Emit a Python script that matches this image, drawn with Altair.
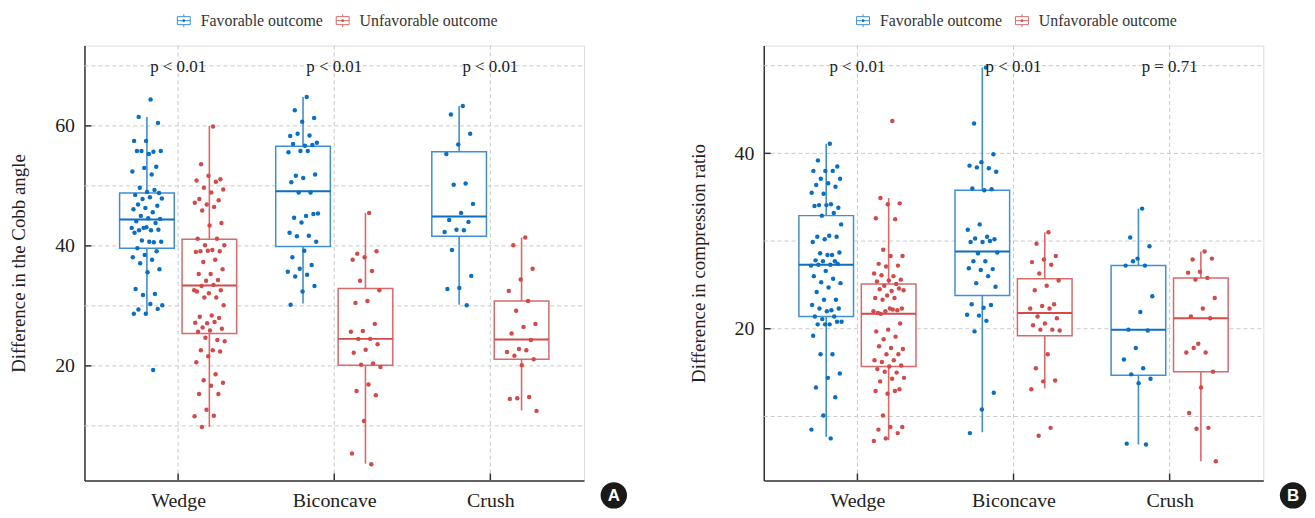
import json
import altair as alt
import pandas as pd

categories = ["Wedge", "Biconcave", "Crush"]
groups = ["Favorable outcome", "Unfavorable outcome"]
point_colors = ["#0a6fc2", "#d24b4b"]
box_colors = ["#3d8fd6", "#d86a6a"]

# ---------- Panel A: Difference in the Cobb angle ----------
cobb_wedge_fav = [64.4, 61.5, 60.5, 57.5, 57.5, 55.7, 55.8, 55.8, 55.3, 55.8, 53.2, 53.0, 52.4, 51.9, 49.7,
                  48.8, 49.0, 48.5, 49.3, 47.8, 47.9, 48.1, 46.9, 46.7, 46.3, 46.1, 45.6, 45.0, 44.5, 44.6,
                  44.1, 43.8, 43.0, 43.0, 42.6, 42.6, 42.7, 43.1, 42.2, 40.6, 40.9, 40.7, 40.7, 39.6, 39.1,
                  38.5, 38.1, 37.7, 37.1, 36.1, 35.6, 32.8, 32.0, 31.8, 30.1, 30.3, 29.4, 29.5, 28.7, 28.7, 19.3]
cobb_wedge_unf = [59.9, 53.6, 51.1, 51.7, 50.9, 50.7, 49.7, 49.4, 48.9, 47.8, 47.6, 46.9, 47.2, 46.5, 45.9,
                  43.8, 43.4, 41.2, 41.2, 40.1, 40.1, 39.3, 39.1, 39.1, 39.2, 39.0, 37.7, 37.3, 36.1, 35.3,
                  35.3, 34.3, 34.2, 32.6, 33.5, 33.3, 32.6, 32.1, 32.4, 31.4, 31.4, 30.1, 28.4, 28.2, 28.0,
                  27.1, 27.2, 27.3, 26.4, 26.2, 25.9, 25.7, 24.3, 24.7, 24.1, 22.6, 22.6, 22.4, 21.6, 20.6,
                  18.6, 17.6, 17.2, 16.7, 15.3, 15.3, 12.7, 11.6, 11.7, 9.8]
cobb_bicon_fav = [64.8, 62.6, 61.3, 60.7, 58.3, 58.4, 58.7, 57.2, 56.7, 57.0, 56.8, 55.8, 55.6, 55.8, 51.7,
                  51.9, 51.3, 50.6, 48.9, 48.9, 45.4, 45.0, 44.7, 45.3, 43.9, 42.2, 41.7, 41.6, 40.7, 39.2,
                  38.1, 36.8, 36.2, 35.7, 35.2, 34.9, 33.3, 32.4, 30.2]
cobb_bicon_unf = [45.5, 38.7, 39.1, 38.1, 37.7, 35.8, 34.2, 32.6, 30.8, 30.5, 27.0, 25.8, 25.7, 24.5, 24.5,
                  23.6, 22.7, 22.2, 20.4, 20.2, 19.8, 16.9, 15.8, 15.1, 10.8, 5.4, 3.6]
cobb_crush_fav = [63.3, 61.9, 58.7, 56.9, 55.3, 50.4, 50.2, 47.0, 45.5, 44.3, 44.0, 42.7, 42.3, 42.6, 39.3,
                  35.0, 33.0, 32.8, 30.1]
cobb_crush_unf = [41.4, 40.1, 36.2, 34.4, 32.5, 30.8, 29.2, 27.0, 26.5, 25.4, 24.3, 22.8, 22.3, 22.6, 21.7,
                  21.1, 20.1, 14.5, 14.8, 14.6, 12.5]
# box summaries in order Wedge fav, Wedge unf, Biconcave fav, Biconcave unf, Crush fav, Crush unf
cobb_lo = [28.8, 9.8, 30.4, 3.7, 30.2, 12.6]
cobb_q1 = [39.6, 25.4, 39.9, 20.1, 41.6, 21.1]
cobb_med = [44.4, 33.4, 49.1, 24.5, 44.9, 24.4]
cobb_q3 = [48.8, 41.1, 56.6, 32.9, 55.7, 30.8]
cobb_hi = [61.5, 60.0, 64.8, 45.5, 63.3, 41.4]
cobb_p = ["p < 0.01", "p < 0.01", "p < 0.01"]
cobb_domain = [0.9, 73.4]
cobb_ticks = [20, 40, 60]
cobb_grid = [10, 20, 30, 40, 50, 60, 70]

# ---------- Panel B: Difference in compression ratio ----------
ratio_wedge_fav = [41.1, 39.2, 38.5, 38.0, 38.0, 38.0, 37.1, 37.1, 36.6, 36.4, 36.2, 35.4, 35.5, 34.2, 34.1,
                   33.8, 34.1, 34.0, 33.2, 32.9, 31.9, 30.6, 30.5, 30.5, 30.2, 29.9, 28.4, 28.6, 28.7, 28.4,
                   27.8, 27.7, 27.7, 27.2, 27.3, 27.3, 27.4, 26.6, 26.0, 25.7, 25.3, 25.2, 24.7, 24.2, 23.3,
                   23.3, 22.7, 22.1, 22.3, 22.3, 22.0, 21.4, 21.4, 21.1, 20.8, 20.5, 20.5, 20.8, 20.5, 19.2,
                   17.1, 17.1, 14.9, 14.4, 13.3, 12.2, 10.1, 8.5, 7.5]
ratio_wedge_unf = [43.7, 34.9, 34.3, 34.2, 32.6, 32.5, 29.0, 28.3, 28.3, 27.4, 27.2, 27.1, 26.3, 26.0, 26.1,
                   25.6, 25.5, 25.4, 25.1, 24.9, 24.4, 24.3, 24.5, 24.6, 23.8, 23.5, 23.5, 23.3, 22.3, 22.3,
                   21.8, 22.1, 22.0, 22.0, 22.2, 21.7, 20.6, 19.9, 19.7, 19.1, 18.8, 17.7, 17.8, 18.0, 17.1,
                   17.1, 16.4, 16.4, 16.2, 15.8, 15.7, 15.4, 15.0, 15.1, 14.4, 14.3, 14.0, 13.1, 12.6, 12.9,
                   12.9, 10.1, 8.8, 8.8, 8.5, 8.1, 7.5, 7.2]
ratio_bicon_fav = [49.8, 43.4, 39.9, 39.0, 38.6, 38.3, 38.4, 37.9, 35.8, 36.0, 35.9, 31.9, 31.3, 30.5, 30.3,
                   30.2, 29.9, 29.9, 30.0, 28.6, 28.7, 27.7, 27.7, 26.8, 26.7, 26.9, 26.0, 25.2, 24.8, 22.4,
                   22.8, 22.7, 21.5, 21.6, 20.9, 19.7, 12.7, 10.8, 8.1]
ratio_bicon_unf = [31.0, 29.7, 28.3, 27.9, 27.6, 27.3, 26.3, 25.5, 24.9, 24.4, 22.8, 22.6, 22.3, 22.3, 21.4,
                   21.2, 20.6, 20.4, 19.9, 19.9, 19.8, 17.1, 15.5, 14.1, 14.0, 13.1, 8.7, 7.8]
ratio_crush_fav = [33.7, 30.4, 29.4, 28.0, 27.2, 27.2, 27.7, 23.7, 21.9, 19.9, 19.8, 17.8, 16.5, 15.5, 14.8,
                   14.3, 13.8, 6.9, 6.8]
ratio_crush_unf = [28.8, 27.9, 28.0, 26.5, 26.4, 25.8, 25.6, 23.5, 22.3, 21.4, 21.2, 18.3, 17.3, 17.3, 17.8,
                   15.1, 13.3, 10.4, 8.7, 8.6, 4.9]
ratio_lo = [7.7, 7.3, 8.2, 13.2, 6.8, 4.9]
ratio_q1 = [21.4, 15.7, 23.8, 19.2, 14.7, 15.1]
ratio_med = [27.3, 21.7, 28.8, 21.8, 19.9, 21.2]
ratio_q3 = [32.9, 25.1, 35.8, 25.7, 27.2, 25.8]
ratio_hi = [41.1, 34.9, 49.8, 31.0, 33.7, 28.8]
ratio_p = ["p < 0.01", "p < 0.01", "p = 0.71"]
ratio_domain = [2.7, 52.3]
ratio_ticks = [20, 40]
ratio_grid = [10, 20, 30, 40, 50]

FONT = "Liberation Serif"
W, H = 503, 438
ICON_BOX = ("M-1,-0.62L1,-0.62L1,0.62L-1,0.62Z M0,-1L0,-0.62 M0,0.62L0,1 M-1,0L1,0")
LEG_ICON_X = [100, 260]
LEG_TEXT_X = [117, 277]
LEG_Y = -25
CAT_EXPR = "indexof(%s, datum.cat) + 1" % json.dumps(categories)
OFF_EXPR = "datum.group == %s ? -0.2 : 0.2" % json.dumps(groups[0])


def panel(series, lo, q1, med, q3, hi, pvals, domain, ticks, grid, ytitle, badge):
    rows = []
    k = 0
    for c in categories:
        for g in groups:
            for v in series[k]:
                rows.append({"cat": c, "group": g, "value": v})
            k += 1
    pts = pd.DataFrame(rows)
    boxes = pd.DataFrame([
        {"cat": c, "group": g}
        for c in categories for g in groups
    ])
    boxes["lo"], boxes["q1"], boxes["med"], boxes["q3"], boxes["hi"] = lo, q1, med, q3, hi
    cats = pd.DataFrame({"cat": categories, "p": pvals})

    xs = alt.Scale(domain=[0.4, 3.6], nice=False, zero=False)
    ys = alt.Scale(domain=domain, nice=False, zero=False)
    color_sc = alt.Scale(domain=groups, range=point_colors)

    xaxis = alt.Axis(values=[1, 2, 3], labelExpr="%s[datum.value - 1]" % json.dumps(categories),
                     ticks=False, grid=False, domainColor="#333", domainWidth=1.5,
                     labelFont=FONT, labelFontSize=20, labelColor="#222", labelPadding=10, title=None)
    yaxis = alt.Axis(values=ticks, ticks=False, grid=False, domainColor="#333", domainWidth=1.5,
                     labelFont=FONT, labelFontSize=20, labelColor="#222", labelPadding=10,
                     title=ytitle, titleFont=FONT, titleFontSize=19, titleFontWeight="normal",
                     titleColor="#222", titlePadding=26)

    def X(f):
        return alt.X(f, type="quantitative", scale=xs, axis=xaxis, title=None)

    def Y(f):
        return alt.Y(f, type="quantitative", scale=ys, axis=yaxis, title=ytitle)

    color = alt.Color("group:N", scale=color_sc, legend=None)

    dash = dict(color="#c9c9c9", strokeDash=[4, 3], strokeWidth=1)
    ygrid = alt.Chart(pd.DataFrame({"v": grid})).mark_rule(**dash).encode(
        y=Y("v"), x=alt.value(0), x2=alt.value(W))
    xgrid = alt.Chart(cats).transform_calculate(pos=CAT_EXPR).mark_rule(**dash).encode(
        x=X("pos"), y=alt.value(0), y2=alt.value(H))

    bx = alt.Chart(boxes).transform_calculate(pos=CAT_EXPR, off=OFF_EXPR).transform_calculate(
        xc="datum.pos + datum.off", xl="datum.pos + datum.off - 0.175", xr="datum.pos + datum.off + 0.175")

    box_layers = []
    for g, bc in zip(groups, box_colors):
        sub = bx.transform_filter(alt.datum.group == g)
        box_layers.append(sub.mark_rule(strokeWidth=1.6, color=bc).encode(x=X("xc"), y=Y("lo"), y2="hi:Q"))
    for g, bc in zip(groups, box_colors):
        sub = bx.transform_filter(alt.datum.group == g)
        box_layers.append(sub.mark_rect(fill="white", stroke=bc, strokeWidth=1.5).encode(
            x=X("xl"), x2="xr:Q", y=Y("q1"), y2="q3:Q"))
    median = bx.mark_rule(strokeWidth=2).encode(x=X("xl"), x2="xr:Q", y=Y("med"), color=color)

    points = alt.Chart(pts).transform_window(
        rn="row_number()", groupby=["cat", "group"]
    ).transform_calculate(pos=CAT_EXPR, off=OFF_EXPR).transform_calculate(
        xj="datum.pos + datum.off + ((datum.rn * 0.618034) % 1 - 0.5) * 0.2"
    ).mark_circle(size=20, opacity=1).encode(x=X("xj"), y=Y("value"), color=color)

    ytk = alt.Chart(pd.DataFrame({"v": ticks})).mark_rule(color="#333", strokeWidth=1.5).encode(
        y=Y("v"), x=alt.value(0), x2=alt.value(7))
    xtk = alt.Chart(cats).transform_calculate(pos=CAT_EXPR).mark_rule(color="#333", strokeWidth=1.5).encode(
        x=X("pos"), y=alt.value(H), y2=alt.value(H - 7))

    ptxt = alt.Chart(cats).transform_calculate(pos=CAT_EXPR).mark_text(
        font=FONT, fontSize=17, color="#222", baseline="middle").encode(
        x=X("pos"), y=alt.value(22), text="p:N")

    # legend: box icon + label for each outcome group
    legend_layers = []
    for g, bc, pc, ix, tx in zip(groups, box_colors, point_colors, LEG_ICON_X, LEG_TEXT_X):
        gd = alt.Chart(pd.DataFrame({"group": [g]}))
        legend_layers.append(gd.mark_point(shape=ICON_BOX, size=169, filled=False, stroke=bc,
                                           strokeWidth=1, opacity=1).encode(
            x=alt.value(ix), y=alt.value(LEG_Y)))
        legend_layers.append(gd.mark_circle(size=7, color=pc, opacity=1).encode(
            x=alt.value(ix), y=alt.value(LEG_Y)))
        legend_layers.append(gd.mark_text(font=FONT, fontSize=16, color="#333", align="left",
                                          baseline="middle").encode(
            x=alt.value(tx), y=alt.value(LEG_Y), text="group:N"))

    one = pd.DataFrame({"t": [badge]})
    bcirc = alt.Chart(one).mark_circle(size=707, color="#1a1a1a", opacity=1).encode(
        x=alt.value(W + 30), y=alt.value(H + 15))
    btxt = alt.Chart(one).mark_text(font="Liberation Sans", fontSize=17, fontWeight="bold",
                                    color="white", baseline="middle").encode(
        x=alt.value(W + 30), y=alt.value(H + 16), text="t:N")

    return alt.layer(ygrid, xgrid, *box_layers, median, points, ytk, xtk, ptxt,
                     *legend_layers, bcirc, btxt).properties(width=W, height=H)


pA = panel([cobb_wedge_fav, cobb_wedge_unf, cobb_bicon_fav, cobb_bicon_unf, cobb_crush_fav, cobb_crush_unf],
           cobb_lo, cobb_q1, cobb_med, cobb_q3, cobb_hi, cobb_p, cobb_domain, cobb_ticks, cobb_grid,
           "Difference in the Cobb angle", "A")
pB = panel([ratio_wedge_fav, ratio_wedge_unf, ratio_bicon_fav, ratio_bicon_unf, ratio_crush_fav, ratio_crush_unf],
           ratio_lo, ratio_q1, ratio_med, ratio_q3, ratio_hi, ratio_p, ratio_domain, ratio_ticks, ratio_grid,
           "Difference in compression ratio", "B")

chart = alt.hconcat(pA, pB, spacing=61).resolve_scale(
    x="independent", y="independent", color="independent"
).properties(
    padding={"left": 1, "top": 2, "right": 0, "bottom": 0}
).configure_view(strokeWidth=0).configure(background="white")

chart.save("out.html", embed_options={"renderer": "svg", "actions": False})
